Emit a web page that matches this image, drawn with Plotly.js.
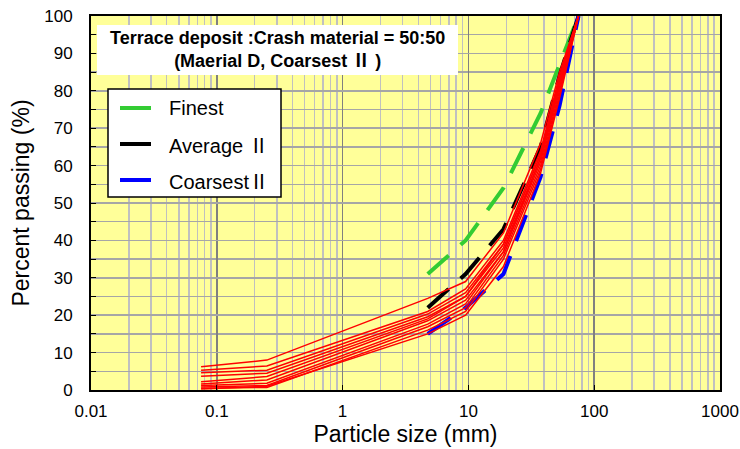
<!DOCTYPE html>
<html>
<head>
<meta charset="utf-8">
<script src="https://cdn.plot.ly/plotly-3.0.1.min.js"></script>
<style>
  html, body { margin: 0; padding: 0; background: #ffffff; }
  #chart { width: 740px; height: 449px; }
</style>
</head>
<body>
<div id="chart"></div>
<script>
// Sieve sizes (mm)
const sieveSizes = [0.075, 0.25, 4.75, 9.5, 19, 37.5, 53, 75];
const envelopeSizes = [4.75, 9.5, 19, 37.5, 53, 75];

// Grading envelopes (% passing)
const finest   = [31, 40, 54, 74, 87, 100];
const average  = [22, 31, 43, 65, 84, 100];
const coarsest = [15, 22, 31, 57, 76, 100];

// Measured samples (% passing at each sieve size)
const sample1  = [6.2, 8.0, 24.5, 29, 42, 66, 85, 100];
const sample2  = [5.3, 6.4, 21.0, 27, 40, 64, 84, 100];
const sample3  = [4.6, 5.3, 20.3, 26, 39, 63, 83, 100];
const sample4  = [3.7, 4.5, 19.6, 25, 38, 62, 82, 100];
const sample5  = [2.2, 3.6, 19.0, 25, 39, 63, 83, 100];
const sample6  = [1.6, 2.7, 18.5, 24, 37, 61, 81, 100];
const sample7  = [1.2, 1.8, 17.6, 23, 37, 62, 82, 100];
const sample8  = [0.8, 1.2, 16.9, 22, 36, 60, 80, 100];
const sample9  = [0.5, 0.7, 16.0, 21, 35, 59, 79, 100];
const sample10 = [0.3, 1.0, 15.0, 20, 33, 58, 78, 100];
const samples = [sample1, sample2, sample3, sample4, sample5,
                 sample6, sample7, sample8, sample9, sample10];

// Axis ticks
const xTickVals = [0.01, 0.1, 1, 10, 100, 1000];
const xTickText = ['0.01', '0.1', '1', '10', '100', '1000'];

// Legend entries (roman numeral set in a full-width face)
const NUM2 = '<span style="font-family:\'Noto Sans CJK JP\'">\u2161</span>';
const legendNames  = ['Finest', 'Average ' + NUM2, 'Coarsest' + NUM2];
const legendColors = ['#33CC33', '#000000', '#0000FF'];

const FONT = 'Arial, "Liberation Sans", sans-serif';
const dashPattern = '28px,16px';

const traces = [];
const envelopes = [finest, average, coarsest];
envelopes.forEach((vals, i) => {
  traces.push({
    type: 'scatter', mode: 'lines',
    x: envelopeSizes, y: vals,
    showlegend: false,
    line: { color: legendColors[i], width: 4, dash: dashPattern },
    hoverinfo: 'skip'
  });
});
samples.forEach((vals) => {
  traces.push({
    type: 'scatter', mode: 'lines',
    x: sieveSizes, y: vals,
    showlegend: false,
    line: { color: '#FF0000', width: 1.5 },
    hoverinfo: 'skip'
  });
});

// Plot area in pixels: left 91, right 720, top 16, bottom 390
const PL = 91, PR = 720, PT = 16, PB = 390;
const px = v => (v - PL) / (PR - PL);
const py = v => (PB - v) / (PB - PT);

const shapes = [
  // title box
  { type: 'rect', xref: 'paper', yref: 'paper', layer: 'above',
    x0: px(97), x1: px(458), y0: py(75), y1: py(25),
    fillcolor: '#FFFFFF', line: { width: 0 } },
  // legend box
  { type: 'rect', xref: 'paper', yref: 'paper', layer: 'above',
    x0: px(108), x1: px(281), y0: py(197), y1: py(89),
    fillcolor: '#FFFFFF', line: { color: '#000000', width: 1.5 } }
];
const annotations = [
  { xref: 'paper', yref: 'paper', x: px(277.5), y: py(50),
    xanchor: 'center', yanchor: 'middle', showarrow: false,
    text: '<b>Terrace deposit :Crash material = 50:50</b><br><b>(Maerial D, Coarsest ' + NUM2 + ' )</b>',
    font: { family: FONT, size: 18, color: '#000000' } }
];
const legendY = [108, 144, 180];
legendNames.forEach((name, i) => {
  shapes.push({ type: 'line', xref: 'paper', yref: 'paper', layer: 'above',
    x0: px(120), x1: px(151), y0: py(legendY[i]), y1: py(legendY[i]),
    line: { color: legendColors[i], width: 4 } });
  annotations.push({ xref: 'paper', yref: 'paper', x: px(167), y: py(legendY[i]),
    xanchor: 'left', yanchor: 'middle', showarrow: false, text: name,
    font: { family: FONT, size: 20, color: '#000000' } });
});

const layout = {
  width: 740, height: 449,
  margin: { l: PL, r: 740 - PR, t: PT, b: 449 - PB, pad: 0 },
  paper_bgcolor: '#FFFFFF',
  plot_bgcolor: '#FFFF99',
  font: { family: FONT, color: '#000000' },
  xaxis: {
    type: 'log', range: [-2, 3],
    tickmode: 'array', tickvals: xTickVals, ticktext: xTickText,
    ticks: 'inside', ticklen: 5, tickwidth: 1, tickcolor: '#000000',
    tickfont: { family: FONT, size: 17, color: '#000000' },
    ticklabelstandoff: 5,
    showgrid: true, gridcolor: '#808080', gridwidth: 1.5,
    minor: { dtick: 'D1', showgrid: true, gridcolor: '#C0C0C0', gridwidth: 1.5, ticks: '' },
    showline: true, mirror: true, linecolor: '#000000', linewidth: 2,
    zeroline: false,
    title: { text: 'Particle size (mm)', font: { family: FONT, size: 23, color: '#000000' }, standoff: 2 }
  },
  yaxis: {
    range: [0, 100], dtick: 10,
    ticks: 'inside', ticklen: 5, tickwidth: 1, tickcolor: '#000000',
    tickfont: { family: FONT, size: 17, color: '#000000' },
    ticklabelstandoff: 13,
    showgrid: true, gridcolor: '#A6A6A6', gridwidth: 1.5,
    minor: { dtick: 5, showgrid: true, gridcolor: '#A6A6A6', gridwidth: 1.5,
             ticks: 'inside', ticklen: 5, tickcolor: '#000000' },
    showline: true, mirror: true, linecolor: '#000000', linewidth: 2,
    zeroline: false,
    title: { text: 'Percent passing (%)', font: { family: FONT, size: 23, color: '#000000' }, standoff: 8 }
  },
  shapes: shapes,
  annotations: annotations,
  showlegend: false
};

Plotly.newPlot('chart', traces, layout, { displayModeBar: false, staticPlot: true });
</script>
</body>
</html>
